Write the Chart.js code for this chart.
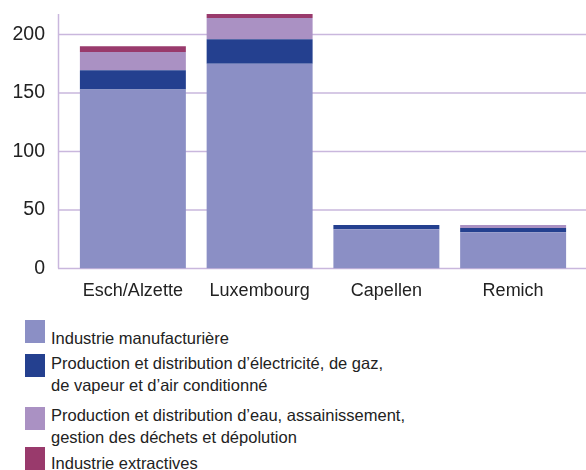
<!DOCTYPE html>
<html lang="fr">
<head>
    <meta charset="UTF-8">
    <title>Emploi par commune</title>
    <style>
        body { margin: 0; background: #fff; font-family: "Liberation Sans", Arial, sans-serif; color: #222; }
        #wrap { position: relative; width: 586px; height: 470px; overflow: hidden; }
        #box { position: absolute; left: 0; top: 0; width: 586px; height: 314px; }
        .item { position: absolute; left: 25px; }
        .item .sw { position: absolute; left: 0; width: 20px; height: 23px; }
        .item .txt { position: absolute; left: 26px; font-size: 16.5px; line-height: 22px; white-space: nowrap; color: #222; }
    </style>
</head>
<body>
<div id="wrap">
    <div id="box"><canvas id="chart"></canvas></div>
    <div id="legend"></div>
</div>
<script src="https://cdn.jsdelivr.net/npm/chart.js"></script>
<script>
    // Communes
    const villes = ['Esch/Alzette', 'Luxembourg', 'Capellen', 'Remich'];

    // Valeurs par secteur
    const manufacturiere = [153, 175, 33.5, 31];
    const electricite = [16.5, 21, 3.5, 3.5];
    const eau = [15.5, 18, 0, 2.5];
    const extractives = [5, 3.5, 0, 0];

    const graduations = [0, 50, 100, 150, 200];

    const libelles = [
        ['Industrie manufacturière'],
        ['Production et distribution d’électricité, de gaz,', 'de vapeur et d’air conditionné'],
        ['Production et distribution d’eau, assainissement,', 'gestion des déchets et dépolution'],
        ['Industrie extractives']
    ];
    const couleurs = ['#8b8fc5', '#24408f', '#aa91c3', '#993a6c'];
    const series = [manufacturiere, electricite, eau, extractives];

    const gridColor = '#c9b7dd';

    // grille et axe dessinés sur toute la largeur
    const grille = {
        id: 'grille',
        beforeDatasetsDraw(chart) {
            const ctx = chart.ctx;
            const y = chart.scales.y;
            const area = chart.chartArea;
            ctx.save();
            ctx.strokeStyle = gridColor;
            ctx.lineWidth = 1.5;
            y.ticks.forEach(t => {
                const py = y.getPixelForValue(t.value);
                ctx.beginPath();
                ctx.moveTo(58, py);
                ctx.lineTo(586, py);
                ctx.stroke();
            });
            ctx.beginPath();
            ctx.moveTo(58.5, area.top);
            ctx.lineTo(58.5, y.getPixelForValue(0));
            ctx.stroke();
            ctx.restore();
        }
    };

    const chart = new Chart(document.getElementById('chart'), {
        type: 'bar',
        data: {
            labels: villes,
            datasets: series.map((s, i) => ({
                label: libelles[i].join(' '),
                data: s,
                backgroundColor: couleurs[i],
                borderWidth: 0,
                categoryPercentage: 1,
                barPercentage: 0.836
            }))
        },
        options: {
            responsive: true,
            maintainAspectRatio: false,
            animation: false,
            layout: { padding: { top: 14, right: 9.5, left: 0, bottom: 0 } },
            plugins: {
                legend: { display: false },
                tooltip: { enabled: false }
            },
            scales: {
                x: {
                    stacked: true,
                    grid: { display: false, drawTicks: false },
                    border: { display: false },
                    ticks: {
                        color: '#222',
                        font: { family: 'Liberation Sans', size: 18 },
                        padding: 12,
                        maxRotation: 0
                    }
                },
                y: {
                    stacked: true,
                    min: 0,
                    max: 217.5,
                    grid: { display: false, drawTicks: false },
                    border: { display: false },
                    afterBuildTicks(scale) {
                        scale.ticks = graduations.map(v => ({ value: v }));
                    },
                    afterFit(scale) {
                        scale.width = 69.5;
                        scale.paddingTop = 0;
                        scale.paddingBottom = 0;
                    },
                    ticks: {
                        color: '#222',
                        font: { family: 'Liberation Sans', size: 19.5 },
                        padding: 24.5
                    }
                }
            }
        },
        plugins: [grille]
    });

    // Légende
    const positions = [
        { sw: 320, txt: 326.5 },
        { sw: 354, txt: 351.5 },
        { sw: 406.7, txt: 403.5 },
        { sw: 446.7, txt: 451.5 }
    ];
    const legend = document.getElementById('legend');
    chart.data.datasets.forEach((ds, i) => {
        const item = document.createElement('div');
        item.className = 'item';
        const sw = document.createElement('div');
        sw.className = 'sw';
        sw.style.background = ds.backgroundColor;
        sw.style.top = positions[i].sw + 'px';
        const txt = document.createElement('div');
        txt.className = 'txt';
        txt.style.top = positions[i].txt + 'px';
        txt.innerHTML = libelles[i].join('<br>');
        item.appendChild(sw);
        item.appendChild(txt);
        legend.appendChild(item);
    });
</script>
</body>
</html>
